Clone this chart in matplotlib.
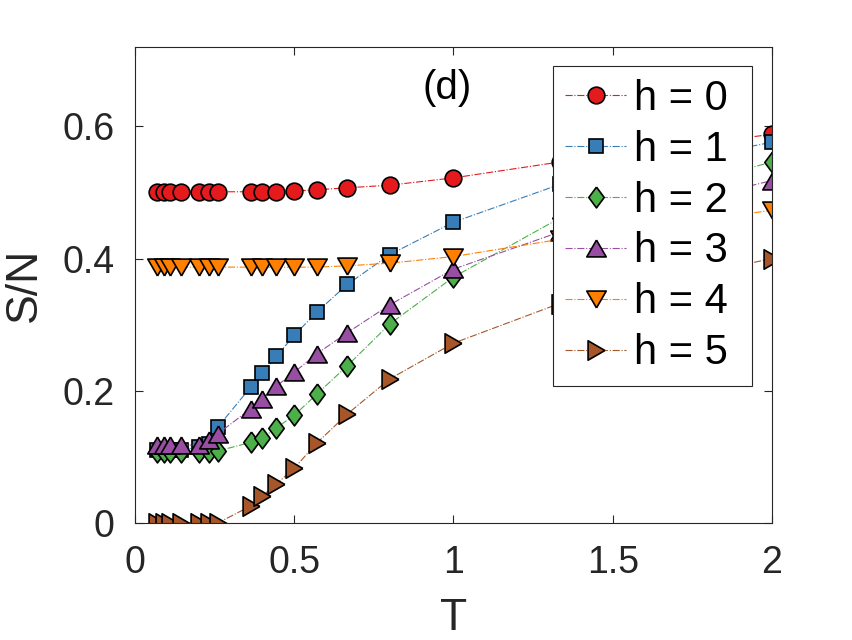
import numpy as np
import matplotlib
matplotlib.use('Agg')
import matplotlib.pyplot as plt
from matplotlib.path import Path

plt.rcParams['font.family'] = ['Liberation Sans', 'DejaVu Sans']

# temperatures (same for every field h)
T = [0.07, 0.09, 0.11, 0.143, 0.2, 0.233, 0.26, 0.364, 0.4, 0.444,
     0.5, 0.571, 0.667, 0.8, 1.0, 1.333, 2.0]

s_h0 = [0.501, 0.501, 0.501, 0.501, 0.501, 0.501, 0.501, 0.501, 0.501, 0.501,
        0.502, 0.504, 0.507, 0.511, 0.522, 0.546, 0.588]
s_h1 = [0.11, 0.11, 0.11, 0.11, 0.115, 0.12, 0.145, 0.206, 0.227, 0.252,
        0.284, 0.319, 0.361, 0.406, 0.455, 0.512, 0.576]
s_h2 = [0.107, 0.107, 0.107, 0.107, 0.107, 0.108, 0.109, 0.122, 0.129, 0.144,
        0.163, 0.195, 0.238, 0.301, 0.372, 0.461, 0.546]
s_h3 = [0.118, 0.118, 0.118, 0.118, 0.118, 0.126, 0.135, 0.173, 0.188, 0.207,
        0.228, 0.256, 0.288, 0.330, 0.384, 0.440, 0.518]
s_h4 = [0.387, 0.387, 0.387, 0.387, 0.387, 0.387, 0.387, 0.387, 0.387, 0.387,
        0.387, 0.387, 0.389, 0.393, 0.403, 0.429, 0.473]
s_h5 = [0.0, 0.0, 0.0, 0.0, 0.0, 0.0, 0.0, 0.026, 0.041, 0.059,
        0.083, 0.121, 0.165, 0.218, 0.272, 0.332, 0.400]

series = [s_h0, s_h1, s_h2, s_h3, s_h4, s_h5]
labels = ['h = 0', 'h = 1', 'h = 2', 'h = 3', 'h = 4', 'h = 5']
colors = ['#e41a1c', '#377eb8', '#4daf4a', '#984ea3', '#ff7f00', '#a65628']

# matlab-looking markers: tall diamond and equilateral triangles
diamond = Path([(0, 1), (0.74, 0), (0, -1), (-0.74, 0), (0, 1)])
tri_up = Path([(0, 0.866), (1, -0.866), (-1, -0.866), (0, 0.866)])
tri_dn = Path([(0, -0.866), (1, 0.866), (-1, 0.866), (0, -0.866)])
tri_rt = Path([(0.866, 0), (-0.866, 1), (-0.866, -1), (0.866, 0)])
markers = ['o', 's', diamond, tri_up, tri_dn, tri_rt]
msizes = [12, 10, 15, 14, 14, 14]

fig = plt.figure(figsize=(8.53, 6.4), dpi=100)
ax = fig.add_axes([0.1583, 0.1828, 0.7467, 0.7438])

for s, lab, c, m, ms in zip(series, labels, colors, markers, msizes):
    ax.plot(T, s, linestyle='-.', linewidth=0.8, color=c, marker=m,
            markersize=ms, markerfacecolor=c, markeredgecolor='k',
            markeredgewidth=1.2, label=lab)

ax.set_xlim(0, 2)
ax.set_ylim(0, 0.72)
ax.set_xticks([0, 0.5, 1, 1.5, 2])
ax.set_xticklabels(['0', '0.5', '1', '1.5', '2'])
ax.set_yticks([0, 0.2, 0.4, 0.6])
ax.set_yticklabels(['0', '0.2', '0.4', '0.6'])
ax.tick_params(direction='in', length=6, width=0.8, top=True, right=True,
               labelsize=27, colors='#262626')
ax.tick_params(axis='x', pad=16)
ax.tick_params(axis='y', pad=15)
for sp in ax.spines.values():
    sp.set_color('#262626')
    sp.set_linewidth(0.8)

ax.set_xlabel('T', fontsize=32, color='#262626', labelpad=12)
ax.set_ylabel('S/N', fontsize=32, color='#262626', labelpad=12)

ax.text(0.98, 0.658, '(d)', fontsize=29, ha='center', va='center', color='k')

leg = ax.legend(loc='upper left', bbox_to_anchor=(0.656, 0.296, 0.313, 0.663),
                mode='expand', fontsize=30,
                handlelength=1.45, handletextpad=0.2, labelspacing=0.26,
                borderpad=0.3, borderaxespad=0, fancybox=False,
                edgecolor='#262626', framealpha=1)
leg.get_frame().set_linewidth(0.8)

fig.savefig('out.png', dpi=100)
